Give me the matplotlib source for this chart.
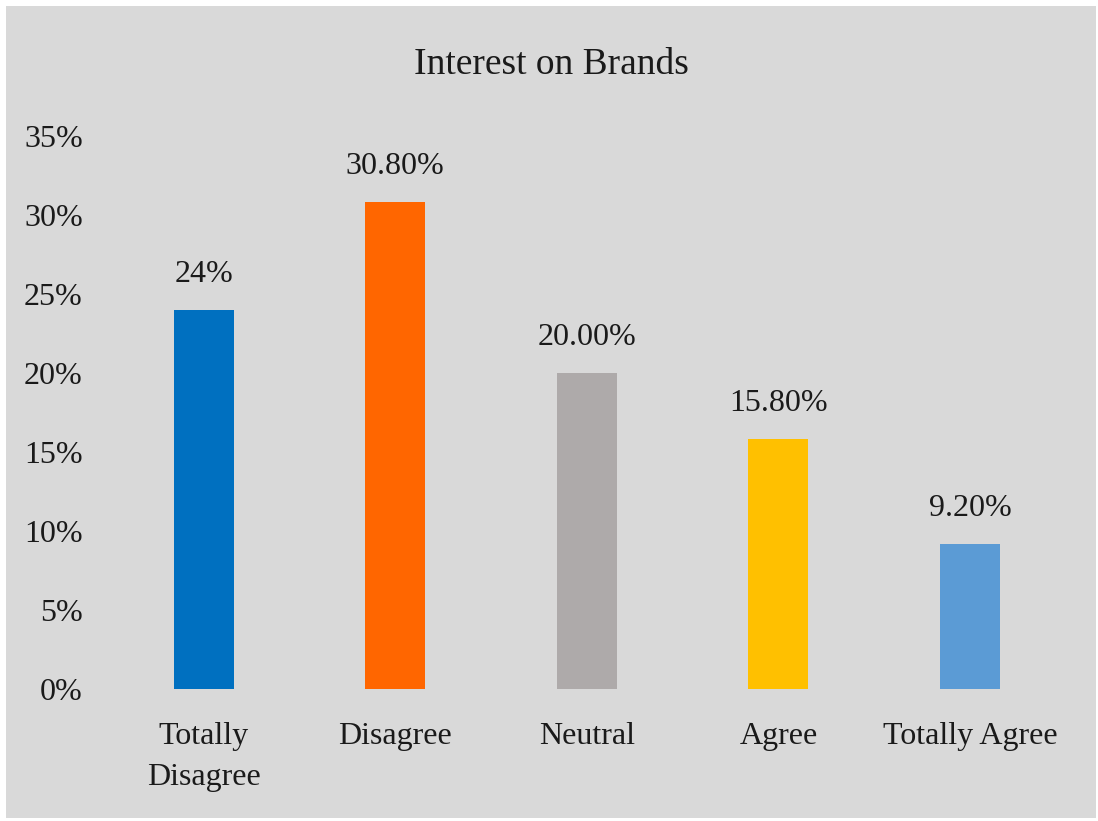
import matplotlib.pyplot as plt
from matplotlib.patches import Rectangle
from matplotlib.ticker import FuncFormatter

# Svarsfördelning för frågan om intresse för varumärken
categories = ["Totally\nDisagree", "Disagree", "Neutral", "Agree", "Totally Agree"]
values = [24.0, 30.8, 20.0, 15.8, 9.2]
value_labels = ["24%", "30.80%", "20.00%", "15.80%", "9.20%"]
colors = ["#0070C0", "#FF6600", "#AEAAAA", "#FFC000", "#5B9BD5"]
yticks = [0, 5, 10, 15, 20, 25, 30, 35]

plt.rcParams["font.family"] = ["Liberation Serif", "DejaVu Serif"]

fig = plt.figure(figsize=(10.98, 8.21), dpi=100, facecolor="white")

# grå bakgrundsruta med smal vit kant runt om
bg = Rectangle((6 / 1098, 3 / 821), 1090 / 1098, 812 / 821,
               transform=fig.transFigure, facecolor="#D9D9D9",
               edgecolor="none", zorder=-5)
fig.patches.append(bg)

ax = fig.add_axes([0.0981, 0.1608, 0.8726, 0.6736])
ax.set_facecolor("none")

x = range(len(categories))
bars = ax.bar(x, values, width=0.313, color=colors, zorder=2)

# värdeetiketter ovanför staplarna
for bar, text in zip(bars, value_labels):
    ax.annotate(text, (bar.get_x() + bar.get_width() / 2, bar.get_height()),
                xytext=(0, 15), textcoords="offset points",
                ha="center", va="bottom", fontsize=23, color="#1a1a1a")

ax.set_xlim(-0.5, len(categories) - 0.5)
ax.set_ylim(0, 35)
ax.set_yticks(yticks)
ax.yaxis.set_major_formatter(FuncFormatter(lambda v, p: f"{v:.0f}%"))
ax.set_xticks(list(x))
ax.set_xticklabels(categories, linespacing=1.55)

ax.tick_params(axis="y", length=0, pad=18, labelsize=23, labelcolor="#1a1a1a")
ax.tick_params(axis="x", length=0, pad=24, labelsize=23, labelcolor="#1a1a1a")
for side in ["top", "right", "bottom", "left"]:
    ax.spines[side].set_visible(False)

fig.text(551 / 1098, 1 - 65 / 821, "Interest on Brands",
         ha="center", va="center", fontsize=27, color="#1a1a1a")

fig.savefig("out.png", dpi=100, facecolor="white")
